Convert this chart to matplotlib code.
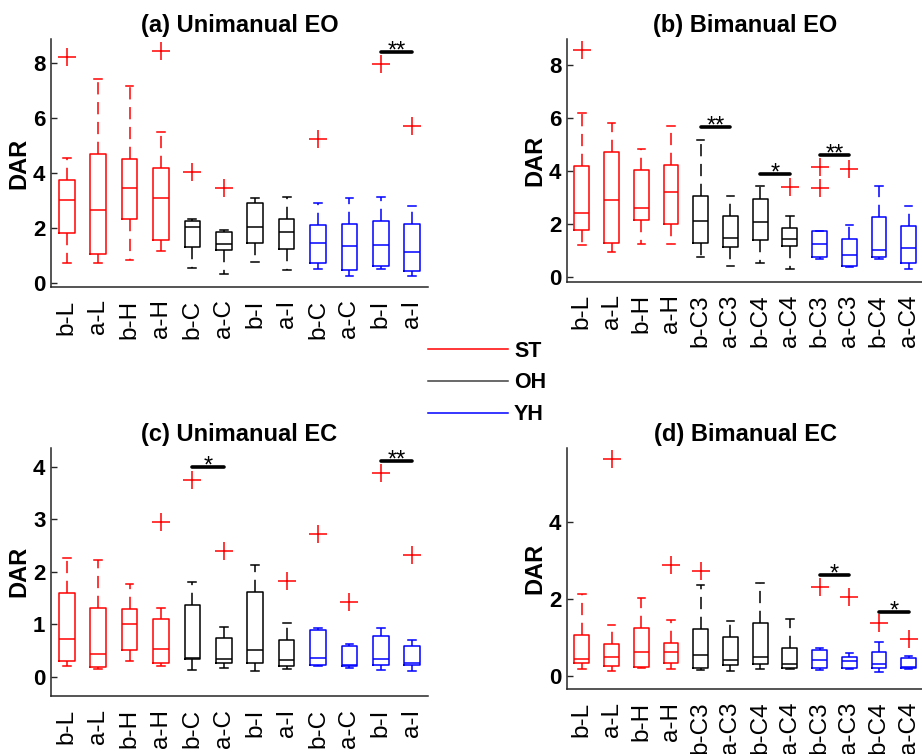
import matplotlib
matplotlib.use('Agg')
import matplotlib.pyplot as plt
from matplotlib.lines import Line2D

plt.rcParams['font.family'] = ['Liberation Sans', 'DejaVu Sans']

# ---------------- data ----------------
labels_uni = ['b-L', 'a-L', 'b-H', 'a-H', 'b-C', 'a-C', 'b-I', 'a-I', 'b-C', 'a-C', 'b-I', 'a-I']
labels_bi = ['b-L', 'a-L', 'b-H', 'a-H', 'b-C3', 'a-C3', 'b-C4', 'a-C4', 'b-C3', 'a-C3', 'b-C4', 'a-C4']
group_names = ['ST', 'OH', 'YH']
group_colors = ['#FF0000', '#000000', '#0000FF']
legend_colors = ['#FF0000', '#404040', '#0000FF']
boxes_per_group = 4

# (a) Unimanual EO
a_whislo = [0.74, 0.74, 0.84, 1.18, 0.55, 0.34, 0.78, 0.50, 0.52, 0.27, 0.51, 0.27]
a_q1 = [1.82, 1.08, 2.33, 1.59, 1.32, 1.22, 1.47, 1.24, 0.73, 0.50, 0.63, 0.46]
a_med = [3.04, 2.65, 3.45, 3.12, 2.04, 1.43, 2.05, 1.88, 1.48, 1.37, 1.38, 1.14]
a_q3 = [3.75, 4.69, 4.53, 4.18, 2.25, 1.88, 2.91, 2.33, 2.13, 2.16, 2.25, 2.17]
a_whishi = [4.57, 7.44, 7.18, 5.50, 2.34, 1.95, 3.12, 3.15, 2.92, 3.12, 3.15, 2.81]
a_fliers = [[8.24], [], [], [8.46], [4.05], [3.45], [], [], [5.26], [], [7.96], [5.73]]
a_sig = [(11, 12, 8.42, '**')]

# (b) Bimanual EO
b_whislo = [1.20, 0.96, 1.25, 1.25, 0.76, 0.43, 0.54, 0.30, 0.68, 0.37, 0.69, 0.30]
b_q1 = [1.79, 1.30, 2.15, 2.02, 1.31, 1.14, 1.41, 1.17, 0.78, 0.44, 0.77, 0.52]
b_med = [2.41, 2.93, 2.61, 3.22, 2.12, 1.48, 2.09, 1.45, 1.26, 0.82, 1.01, 1.10]
b_q3 = [4.19, 4.73, 4.06, 4.23, 3.08, 2.31, 2.94, 1.85, 1.73, 1.46, 2.26, 1.93]
b_whishi = [6.21, 5.82, 4.86, 5.73, 5.19, 3.07, 3.43, 2.32, 1.73, 1.97, 3.46, 2.70]
b_fliers = [[8.58], [], [], [], [], [], [], [3.39], [4.16, 3.37], [4.08], [], []]
b_sig = [(5, 6, 5.67, '**'), (7, 8, 3.90, '*'), (9, 10, 4.63, '**')]

# (c) Unimanual EC
c_whislo = [0.20, 0.15, 0.30, 0.20, 0.13, 0.16, 0.11, 0.15, 0.21, 0.16, 0.13, 0.10]
c_q1 = [0.30, 0.18, 0.51, 0.25, 0.34, 0.25, 0.25, 0.21, 0.23, 0.21, 0.22, 0.22]
c_med = [0.72, 0.43, 1.00, 0.53, 0.36, 0.33, 0.51, 0.32, 0.35, 0.23, 0.34, 0.26]
c_q3 = [1.60, 1.30, 1.28, 1.09, 1.36, 0.74, 1.61, 0.69, 0.88, 0.58, 0.77, 0.58]
c_whishi = [2.26, 2.23, 1.76, 1.31, 1.80, 0.95, 2.13, 1.03, 0.93, 0.62, 0.92, 0.69]
c_fliers = [[], [], [], [2.94], [3.75], [2.40], [], [1.82], [2.72], [1.43], [3.88], [2.31]]
c_sig = [(5, 6, 3.99, '*'), (11, 12, 4.10, '**')]

# (d) Bimanual EC
d_whislo = [0.18, 0.14, 0.21, 0.19, 0.15, 0.14, 0.17, 0.19, 0.16, 0.19, 0.11, 0.19]
d_q1 = [0.34, 0.25, 0.24, 0.33, 0.22, 0.29, 0.32, 0.20, 0.20, 0.20, 0.20, 0.20]
d_med = [0.45, 0.50, 0.63, 0.62, 0.54, 0.41, 0.48, 0.31, 0.41, 0.39, 0.32, 0.24]
d_q3 = [1.07, 0.82, 1.25, 0.85, 1.21, 1.01, 1.38, 0.73, 0.67, 0.48, 0.63, 0.47]
d_whishi = [2.13, 1.31, 2.02, 1.45, 2.37, 1.43, 2.42, 1.47, 0.73, 0.60, 0.89, 0.53]
d_fliers = [[], [5.62], [], [2.89], [2.71], [], [], [], [2.32], [2.06], [1.37], [0.96]]
d_sig = [(9, 10, 2.63, '*'), (11, 12, 1.67, '*')]

titles = ['(a) Unimanual EO', '(b) Bimanual EO', '(c) Unimanual EC', '(d) Bimanual EC']

# ---------------- figure ----------------
W, H = 922, 754
fig = plt.figure(figsize=(W / 100, H / 100), dpi=100)

def px_axes(l, t, r, b):
    return fig.add_axes([l / W, 1 - b / H, (r - l) / W, (b - t) / H])

panels = [
    dict(rect=(51, 39, 428, 287), ylim=(-0.13, 8.88), yticks=[0, 2, 4, 6, 8],
         labels=labels_uni, data=(a_whislo, a_q1, a_med, a_q3, a_whishi, a_fliers), sig=a_sig),
    dict(rect=(567, 39, 923.5, 281.7), ylim=(-0.17, 9.0), yticks=[0, 2, 4, 6, 8],
         labels=labels_bi, data=(b_whislo, b_q1, b_med, b_q3, b_whishi, b_fliers), sig=b_sig),
    dict(rect=(51, 447.7, 428, 696), ylim=(-0.37, 4.36), yticks=[0, 1, 2, 3, 4],
         labels=labels_uni, data=(c_whislo, c_q1, c_med, c_q3, c_whishi, c_fliers), sig=c_sig),
    dict(rect=(567, 447.7, 923.5, 689.3), ylim=(-0.345, 5.92), yticks=[0, 2, 4],
         labels=labels_bi, data=(d_whislo, d_q1, d_med, d_q3, d_whishi, d_fliers), sig=d_sig),
]

spine_col = '#262626'
LW = 1.1

for p, title in zip(panels, titles):
    ax = px_axes(*p['rect'])
    whislo, q1, med, q3, whishi, fliers = p['data']
    n = len(med)
    for i in range(n):
        col = group_colors[i // boxes_per_group]
        st = dict(whislo=whislo[i], q1=q1[i], med=med[i], q3=q3[i], whishi=whishi[i],
                  fliers=fliers[i])
        ax.bxp([st], positions=[i + 1], widths=0.5, capwidths=0.25, showfliers=True,
               boxprops=dict(color=col, lw=LW),
               medianprops=dict(color=col, lw=LW),
               whiskerprops=dict(color=col, lw=LW, linestyle=(0, (8, 5))),
               capprops=dict(color=col, lw=LW),
               flierprops=dict(marker='+', markeredgecolor='#FF0000', markersize=13,
                               markeredgewidth=1.1, linestyle='none'))
    for (x1, x2, y, s) in p['sig']:
        ax.plot([x1, x2], [y, y], color='black', lw=2.6, solid_capstyle='round')
        ax.annotate(s, xy=((x1 + x2) / 2, y), xytext=(0, -4), textcoords='offset points',
                    ha='center', va='baseline', fontsize=17, color='black')
    ax.set_xlim(0.5, n + 0.5)
    ax.set_ylim(*p['ylim'])
    ax.set_xticks(range(1, n + 1))
    ax.set_xticklabels(p['labels'], rotation=90, fontsize=17.5)
    ax.set_yticks(p['yticks'])
    ax.set_yticklabels([str(v) for v in p['yticks']], fontsize=16, fontweight='bold')
    ax.tick_params(axis='x', length=0, pad=9, colors=spine_col)
    ax.tick_params(axis='y', direction='in', length=4, width=1.0, pad=4, colors=spine_col)
    for lab in ax.get_xticklabels() + ax.get_yticklabels():
        lab.set_color('black')
    for s in ['top', 'right']:
        ax.spines[s].set_visible(False)
    for s in ['left', 'bottom']:
        ax.spines[s].set_color(spine_col)
        ax.spines[s].set_linewidth(1.1)
    ax.set_ylabel('DAR', fontsize=17, fontweight='bold', labelpad=2)
    ax.set_title(title, fontsize=17, fontweight='bold', pad=5)
    ax.set_facecolor('none')

handles = [Line2D([], [], color=c, lw=1.1) for c in legend_colors]
leg = fig.legend(handles, group_names, loc='center left', bbox_to_anchor=(428 / W, 1 - 383 / H),
                 frameon=False, fontsize=15.5, handlelength=3.7, handletextpad=0.3,
                 labelspacing=0.5, borderpad=0, borderaxespad=0)
for t in leg.get_texts():
    t.set_fontweight('bold')

fig.savefig('out.png', dpi=100)
